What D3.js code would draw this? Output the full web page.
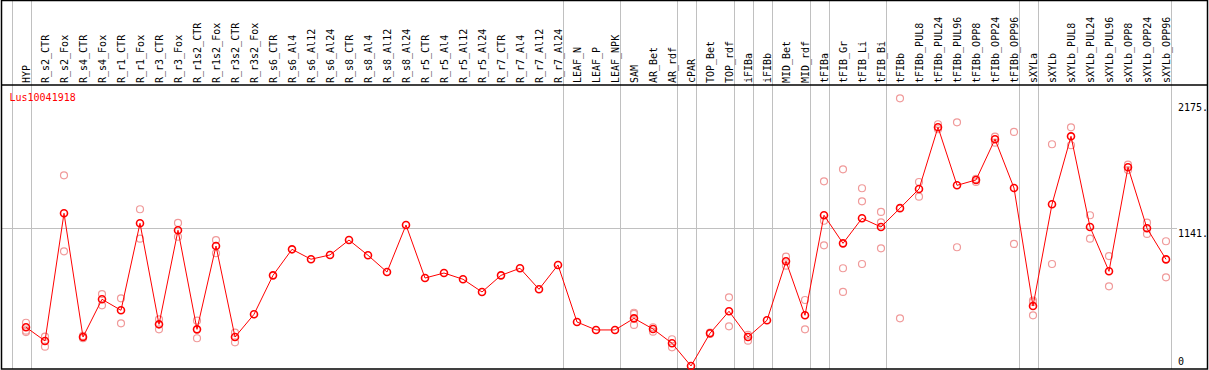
<!DOCTYPE html>
<html>
<head>
<meta charset="utf-8">
<script src="https://cdn.jsdelivr.net/npm/d3@7"></script>
<style>
  body { margin: 0; background: #fff; }
  text { font-family: "DejaVu Sans Mono", monospace; font-size: 10px; }
</style>
</head>
<body>
<svg id="chart"></svg>
<script>
var geneName = "Lus10041918"

var samples = ["HYP", "R_s2_CTR", "R_s2_Fox", "R_s4_CTR", "R_s4_Fox", "R_r1_CTR", "R_r1_Fox",
    "R_r3_CTR", "R_r3_Fox", "R_r1s2_CTR", "R_r1s2_Fox", "R_r3s2_CTR", "R_r3s2_Fox",
    "R_s6_CTR", "R_s6_Al4", "R_s6_Al12", "R_s6_Al24", "R_s8_CTR", "R_s8_Al4", "R_s8_Al12", "R_s8_Al24",
    "R_r5_CTR", "R_r5_Al4", "R_r5_Al12", "R_r5_Al24", "R_r7_CTR", "R_r7_Al4", "R_r7_Al12", "R_r7_Al24",
    "LEAF_N", "LEAF_P", "LEAF_NPK", "SAM", "AR_Bet", "AR_rdf", "cPAR", "TOP_Bet", "TOP_rdf",
    "iFIBa", "iFIBb", "MID_Bet", "MID_rdf", "tFIBa", "tFIB_Gr", "tFIB_Li", "tFIB_Bi", "tFIBb",
    "tFIBb_PUL8", "tFIBb_PUL24", "tFIBb_PUL96", "tFIBb_OPP8", "tFIBb_OPP24", "tFIBb_OPP96",
    "sXYLa", "sXYLb", "sXYLb_PUL8", "sXYLb_PUL24", "sXYLb_PUL96", "sXYLb_OPP8", "sXYLb_OPP24", "sXYLb_OPP96"]

// mean expression per sample
var means = [331, 219, 1264, 251, 560, 470, 1182, 355, 1125, 314, 996, 251, 437,
    756, 969, 888, 923, 1045, 920, 783, 1168,
    734, 775, 724, 620, 756, 814, 642, 841,
    374, 309, 309, 404, 317, 200, 14, 282, 462,
    251, 388, 871, 429, 1248, 1018, 1223, 1152, 1306,
    1463, 1968, 1493, 1537, 1870, 1471,
    505, 1338, 1894, 1152, 789, 1641, 1141, 887]

// individual replicates (where they show)
var replicates = [[368, 303, 292], [254, 172], [1575, 953], [260, 241], [603, 511], [568, 363],
    [1297, 1056], [396, 314], [1185, 1072], [385, 241], [1045, 937], [287, 208], [],
    [], [], [], [], [], [], [], [],
    [], [], [], [], [], [], [], [],
    [], [], [], [450, 350, 440], [331, 295], [233, 167], [], [287, 276], [576, 339],
    [268, 221], [], [909, 835], [554, 314], [1526, 1203, 1002], [1624, 814, 620],
    [1469, 1362, 849], [1275, 1190, 977], [2205, 404],
    [1520, 1400], [1993, 1952], [2009, 986], [1545, 1520], [1891, 1842], [1930, 1013],
    [549, 429, 537], [1829, 849], [1968, 1821], [1248, 1056], [914, 666], [1662, 1618], [1187, 1095], [1035, 740]]

// samples followed by a vertical separator
var groupEnds = ["HYP", "R_r7_Al24", "LEAF_NPK", "AR_rdf", "cPAR", "TOP_rdf", "iFIBa", "iFIBb",
    "MID_rdf", "tFIBa", "tFIB_Bi", "tFIBb_OPP96", "sXYLa", "sXYLb_OPP96"]

var yTicks = [0, 1141, 2175]
var yTickLabels = ["0", "1141.", "2175."]

var width = 1209,
    height = 370

var svg = d3.select("#chart")
    .attr("width", width)
    .attr("height", height)

var x = d3.scalePoint()
    .domain(samples)
    .range([26, 1166])

var y = d3.scaleLinear()
    .domain([0, 2175])
    .range([367.7, 102])

var step = x.step()

// vertical separators (full height)
var sepX = [x(samples[0]) - step + 4.7].concat(groupEnds.map(function (d) { return x(d) + 4.7 }))
svg.selectAll(".vsep")
    .data(sepX)
    .enter()
    .append("line")
    .attr("x1", function (d) { return Math.round(d) + 0.5 })
    .attr("x2", function (d) { return Math.round(d) + 0.5 })
    .attr("y1", 0)
    .attr("y2", 369)
    .attr("stroke", "#c0c0c0")
    .attr("stroke-width", 1)

// horizontal gridline at middle tick
svg.append("line")
    .attr("x1", 2)
    .attr("x2", 1177)
    .attr("y1", Math.round(y(1141)) + 0.5)
    .attr("y2", Math.round(y(1141)) + 0.5)
    .attr("stroke", "#c0c0c0")

// frame and header line
svg.append("rect")
    .attr("x", 1.5)
    .attr("y", 0.5)
    .attr("width", 1206)
    .attr("height", 368.5)
    .attr("fill", "none")
    .attr("stroke", "black")
    .attr("stroke-width", 1.5)

svg.append("line")
    .attr("x1", 2)
    .attr("x2", 1208)
    .attr("y1", 85)
    .attr("y2", 85)
    .attr("stroke", "black")
    .attr("stroke-width", 1.5)

// sample labels
svg.selectAll(".lab")
    .data(samples)
    .enter()
    .append("text")
    .attr("transform", function (d) { return "translate(" + (x(d) + 3.5) + ",83) rotate(-90)" })
    .attr("fill", "black")
    .text(function (d) { return d })

// right axis labels
svg.selectAll(".ytick")
    .data(yTicks)
    .enter()
    .append("text")
    .attr("x", 1178)
    .attr("y", function (d) { return d == 0 ? y(d) - 3 : y(d) + 8.5 })
    .attr("fill", "black")
    .text(function (d, i) { return yTickLabels[i] })

svg.append("text")
    .attr("x", 9.5)
    .attr("y", 100.5)
    .attr("fill", "red")
    .text(geneName)

// replicate circles
var repPts = []
replicates.forEach(function (r, i) {
    r.forEach(function (v) { repPts.push({name: samples[i], value: v}) })
})
svg.selectAll(".rep")
    .data(repPts)
    .enter()
    .append("circle")
    .attr("cx", function (d) { return x(d.name) })
    .attr("cy", function (d) { return y(d.value) })
    .attr("r", 3.5)
    .attr("fill", "none")
    .attr("stroke", "#f09a9a")
    .attr("stroke-width", 1.2)

// mean line
var line = d3.line()
    .x(function (d, i) { return x(samples[i]) })
    .y(function (d) { return y(d) })

svg.append("path")
    .datum(means)
    .attr("d", line)
    .attr("fill", "none")
    .attr("stroke", "red")
    .attr("stroke-width", 1)

svg.selectAll(".mean")
    .data(means)
    .enter()
    .append("circle")
    .attr("cx", function (d, i) { return x(samples[i]) })
    .attr("cy", function (d) { return y(d) })
    .attr("r", 3.5)
    .attr("fill", "none")
    .attr("stroke", "red")
    .attr("stroke-width", 1.6)
</script>
</body>
</html>
